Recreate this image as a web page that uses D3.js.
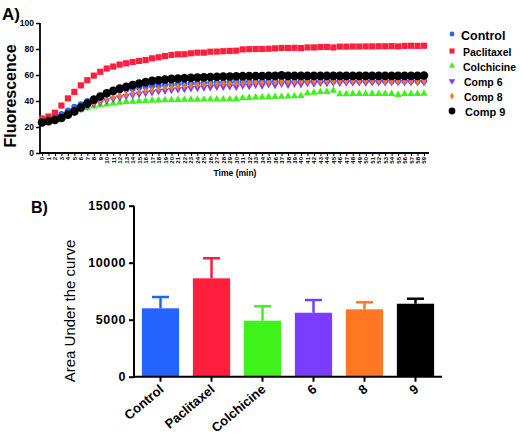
<!DOCTYPE html>
<html><head><meta charset="utf-8">
<script src="https://cdn.jsdelivr.net/npm/d3@7"></script>
<style>
body{margin:0;background:#fff}
svg{display:block}
text{font-family:"Liberation Sans",Arial,sans-serif}
</style>
</head><body>
<svg id="c" width="522" height="440"></svg>
<script>
// ---------- Data (panel A) ----------
const times = [0,1,2,3,4,5,6,7,8,9,10,11,12,13,14,15,16,17,18,19,20,21,22,23,24,25,26,27,28,29,30,31,32,33,34,35,36,37,38,39,40,41,42,43,44,45,46,47,48,49,50,51,52,53,54,55,56,57,58,59];
const seriesNames = ["Control","Paclitaxel","Colchicine","Comp 6","Comp 8","Comp 9"];
const controlVals = [25.4,26,27.4,30,32.6,35.6,37.5,40,42,44,45.5,47,48,48.8,49.5,50.3,51,51.5,52,52.4,52.7,53,53.2,53.5,53.7,53.9,54,54.2,54.3,54.5,54.7,54.8,54.9,55,55,55.1,55.1,55.2,55.2,55.2,55.3,55.3,55.3,55.3,55.3,55.3,55.4,55.4,55.4,55.4,55.4,55.4,55.4,55.4,55.4,55.4,55.4,55.4,55.4,55.4];
const paclitaxelVals = [26.5,28,31,36.5,42,47,52,56,59.5,62.5,65,66.5,68,69,70,70.8,71.5,72.8,73.6,74.6,75.4,75.9,76,76.7,77.2,77.2,77.9,78,78.3,78.5,78.7,79.7,79.9,80,80,80.2,80.5,80.8,80.8,80.9,80.7,81.2,81.2,81.5,81.6,81.2,81.8,81.8,81.9,81.9,82,82,82.1,82.1,82.2,82,82.4,82.5,82.4,82.5];
const colchicineVals = [23.5,24.5,25.5,27,29,31,33,34.5,35.8,36.8,37.5,38.2,38.8,39.3,39.5,40,40.2,40.4,40.5,40.7,40.8,40.9,41,41.1,41.1,41.2,41.2,41.3,41.3,41.4,41.5,42.2,42.5,42.8,42.8,43,43.2,43.3,43.5,43.7,44,46,46.5,47,47,48,45.4,45.4,45.5,45.5,45.5,45.5,45.5,45.5,45.5,44.8,45.5,45.5,45.5,45.6];
const comp6Vals = [24.5,25,26,28,30,32,34,36,37.5,39,40.5,41.8,42.8,43.8,44.6,45.4,46.2,46.8,47.5,48,48.5,49,49.3,49.8,50,50.4,50.6,51,51,51.3,51,52,51.5,52.5,52,53,52.3,53.3,52.6,53.4,53,53.8,53.5,54,53.8,54.2,54,54.3,54.2,54.4,54.3,54.5,54.4,54.5,54.5,54.5,54.5,54.5,54.5,54.5];
const comp8Vals = [25,25.5,26.5,28.5,30.5,32.5,34.5,36.5,38.5,40,41.5,42.8,44,45,45.9,47,47.8,48.5,49.3,50,50.6,51.1,51.6,52,52.4,52.7,53,53.2,53.4,53.5,53.7,53.9,54.1,54.3,54.4,54.6,54.7,54.8,54.9,55,55,55.1,55.1,55.2,55.2,55.2,55.3,55.3,55.3,55.3,55.4,55.4,55.4,55.4,55.4,55.4,55.4,55.4,55.4,55.4];
const comp9Vals = [23.5,24.5,25.5,27,29.5,32,35,38,41,43.5,46,47.8,49.5,51,52.3,53.5,54.5,55.5,56,56.5,57,57.3,57.6,57.9,58.1,58.3,58.5,58.7,58.8,58.9,59,59.1,59.2,59.2,59.2,59.3,59.3,59.7,59.3,59.3,59.3,59.3,59.3,59.3,59.3,59.3,59.3,59.3,59.3,59.3,59.3,59.3,59.3,59.3,59.3,59.3,59.3,59.3,59.3,59.6];
const yTicksA = [0,20,40,60,80,100];

// ---------- Data (panel B) ----------
const barCategories = ["Control","Paclitaxel","Colchicine","6","8","9"];
const barMeans = [6000,8630,4910,5610,5910,6400];
const barErrors = [990,1760,1265,1115,615,440];
const yTicksB = [0,5000,10000,15000];

// ---------- Styles ----------
const colors = ["#2563ff","#ff1f3d","#3ef21a","#7a3dff","#ff7722","#000000"];
const symbolTypes = [d3.symbolCircle,d3.symbolSquare,d3.symbolTriangle,d3.symbolTriangle,d3.symbolDiamond,d3.symbolCircle];
const symbolSizes = [30,38,24,24,18,58];
const symbolRot = [0,0,0,180,0,0];

const svg = d3.select("#c");

// ================= Panel A =================
const allSeries = [controlVals,paclitaxelVals,colchicineVals,comp6Vals,comp8Vals,comp9Vals];
const xA = d3.scaleLinear().domain([0,59]).range([42,424]);
const yA = d3.scaleLinear().domain([0,100]).range([153,23]);

svg.append("text").attr("x",2).attr("y",20).attr("font-size",17).attr("font-weight","bold").text("A)");

// y axis
const gyA = svg.append("g").attr("transform","translate(40,0)")
  .call(d3.axisLeft(yA).tickValues(yTicksA).tickSize(4).tickPadding(2));
gyA.select(".domain").attr("stroke-width",1.8).attr("d","M0,23V153");
gyA.selectAll(".tick line").attr("stroke-width",1.5);
gyA.selectAll(".tick text").attr("font-size",8.5).attr("font-weight","bold").attr("font-family","Liberation Sans, Arial, sans-serif");

// x axis
const gxA = svg.append("g").attr("transform","translate(0,153)")
  .call(d3.axisBottom(xA).tickValues(times).tickSize(3).tickFormat(d3.format("d")));
gxA.select(".domain").attr("stroke-width",1.8).attr("d","M40,0H429");
gxA.selectAll(".tick line").attr("stroke-width",1);
gxA.selectAll(".tick text")
  .attr("font-size",6).attr("font-weight","bold").attr("font-family","Liberation Sans, Arial, sans-serif")
  .attr("text-anchor","end").attr("dy","0.33em").attr("y",0)
  .attr("transform","translate(0,4) rotate(-90)");

svg.append("text").attr("x",235).attr("y",176).attr("text-anchor","middle")
  .attr("font-size",8.5).attr("font-weight","bold").text("Time (min)");
svg.append("text").attr("transform","translate(16,96) rotate(-90)").attr("text-anchor","middle")
  .attr("font-size",16).attr("font-weight","bold").text("Fluorescence");

// points
allSeries.forEach((vals,i)=>{
  const sym = d3.symbol().type(symbolTypes[i]).size(symbolSizes[i]);
  svg.append("g").selectAll("path").data(vals).join("path")
    .attr("d",sym)
    .attr("fill",colors[i])
    .attr("transform",(d,j)=>`translate(${xA(times[j])},${yA(d)}) rotate(${symbolRot[i]})`);
});

// legend
const legY = [36,52,67,82,97,112];
const legFont = [12.5,10.5,10.5,10.5,10.5,11];
const legX = [461,463,463,464,464,465];
const legSymSize = [18,26,18,18,14,36];
seriesNames.forEach((n,i)=>{
  const sym = d3.symbol().type(symbolTypes[i]).size(legSymSize[i]);
  svg.append("path").attr("d",sym).attr("fill",colors[i])
    .attr("transform",`translate(452,${legY[i]-(i===0?2:1)}) rotate(${symbolRot[i]})`);
  svg.append("text").attr("x",legX[i]).attr("y",legY[i]+4).attr("font-size",legFont[i])
    .attr("font-weight","bold").text(n);
});

// ================= Panel B =================
const xB = d3.scaleBand().domain(barCategories).range([134,442]).paddingInner(0.27).paddingOuter(0.155);
const yB = d3.scaleLinear().domain([0,15000]).range([376.7,205.7]);

svg.append("text").attr("x",31).attr("y",213).attr("font-size",16).attr("font-weight","bold").text("B)");

// bars
svg.append("g").selectAll("rect").data(barMeans).join("rect")
  .attr("x",(d,i)=>xB(barCategories[i]))
  .attr("width",xB.bandwidth())
  .attr("y",d=>yB(d))
  .attr("height",d=>yB(0)-yB(d))
  .attr("fill",(d,i)=>colors[i]);

// error bars
const eg = svg.append("g");
barMeans.forEach((m,i)=>{
  const cx = xB(barCategories[i]) + xB.bandwidth()/2;
  const top = yB(m + barErrors[i]);
  eg.append("line").attr("x1",cx).attr("x2",cx).attr("y1",yB(m)).attr("y2",top)
    .attr("stroke",colors[i]).attr("stroke-width",2.5);
  eg.append("line").attr("x1",cx-8.5).attr("x2",cx+8.5).attr("y1",top).attr("y2",top)
    .attr("stroke",colors[i]).attr("stroke-width",2.5);
});

// y axis B
const gyB = svg.append("g").attr("transform","translate(134,0)")
  .call(d3.axisLeft(yB).tickValues(yTicksB).tickSize(5).tickPadding(3).tickFormat(d3.format("d")));
gyB.select(".domain").attr("stroke-width",2).attr("d","M0,205.7V377.7");
gyB.selectAll(".tick line").attr("stroke-width",2);
gyB.selectAll(".tick text").attr("font-size",12.5).attr("font-weight","bold")
  .attr("letter-spacing","0.6px").attr("font-family","Liberation Sans, Arial, sans-serif");

// x axis B
const gxB = svg.append("g").attr("transform","translate(0,376.7)")
  .call(d3.axisBottom(xB).tickSize(5).tickSizeOuter(0));
gxB.select(".domain").attr("stroke-width",2).attr("d","M133,0H442");
gxB.selectAll(".tick line").attr("stroke-width",2);
gxB.selectAll(".tick text").attr("font-size",13).attr("font-weight","bold")
  .attr("font-family","Liberation Sans, Arial, sans-serif")
  .attr("text-anchor","end").attr("y",0).attr("dy",0)
  .attr("transform","translate(4,14) rotate(-40)");

svg.append("text").attr("transform","translate(75,311) rotate(-90)").attr("text-anchor","middle")
  .attr("font-size",15).text("Area Under the curve");
</script>
</body></html>
